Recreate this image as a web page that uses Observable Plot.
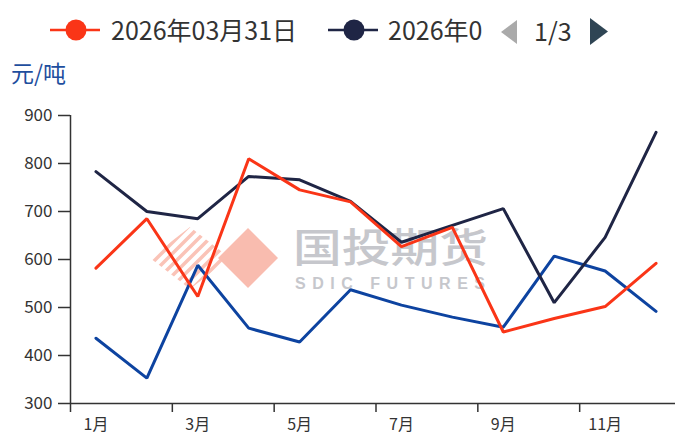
<!DOCTYPE html>
<html>
<head>
<meta charset="utf-8">
<script src="https://cdn.jsdelivr.net/npm/d3@7"></script>
<script src="https://cdn.jsdelivr.net/npm/@observablehq/plot@0.6"></script>
<style>
  body { margin: 0; background: #fff; font-family: "Noto Sans CJK SC", "Noto Sans", sans-serif; }
  #wrap { position: relative; width: 675px; height: 437px; overflow: hidden; background: #fff; }
  #legend { position: relative; height: 58px; z-index: 2; }
  .lg { position: absolute; font-size: 25px; line-height: 30px; color: #333; white-space: nowrap; }
  #wm { position: absolute; left: 0; top: 0; z-index: 0; }
  #chart { position: relative; z-index: 1; }
  #unit { position: absolute; left: 11px; top: 58px; font-size: 23px; line-height: 28px; color: #1e4e9e; z-index: 2; }
</style>
</head>
<body>
<div id="wrap">
  <div id="legend"></div>
  <svg id="wm" width="675" height="437"></svg>
  <div id="chart"></div>
  <div id="unit"></div>
</div>
<script>
// ---- data ----
const months = [1, 2, 3, 4, 5, 6, 7, 8, 9, 10, 11, 12];
const seriesNames = ["2026年03月31日", "2026年0", "series3"];
const seriesColors = ["#fa3517", "#1f2545", "#0d43a0"];
const redValues  = [582, 685, 523, 810, 745, 720, 627, 667, 449, 477, 502, 592];
const navyValues = [783, 700, 685, 773, 766, 721, 636, 671, 706, 510, 646, 865];
const blueValues = [436, 353, 588, 457, 428, 537, 505, 480, 459, 607, 576, 492];
const yTicks = [300, 400, 500, 600, 700, 800, 900];
const xLabelMonths = [1, 3, 5, 7, 9, 11];
const xLabels = ["1月", "3月", "5月", "7月", "9月", "11月"];
const xTickBounds = [0.5, 2.5, 4.5, 6.5, 8.5, 10.5];
const unitLabel = "元/吨";
const pageLabel = "1/3";

const valueSets = [redValues, navyValues, blueValues];
const data = [];
// draw order: blue, navy, red (red on top)
[2, 1, 0].forEach(si => {
  months.forEach((m, i) => data.push({ month: m, value: valueSets[si][i], series: seriesNames[si] }));
});

// ---- legend (HTML) ----
const legend = document.getElementById("legend");
function addItem(x, color, name, textLeft) {
  const s = document.createElementNS("http://www.w3.org/2000/svg", "svg");
  s.setAttribute("width", 52); s.setAttribute("height", 26);
  s.style.position = "absolute"; s.style.left = x + "px"; s.style.top = "17px";
  s.innerHTML = `<line x1="0" y1="13" x2="50" y2="13" stroke="${color}" stroke-width="2.5"/>` +
                `<circle cx="26" cy="13" r="10.5" fill="${color}"/>`;
  legend.appendChild(s);
  const t = document.createElement("div");
  t.className = "lg"; t.textContent = name;
  t.style.left = textLeft + "px"; t.style.top = "14px";
  legend.appendChild(t);
}
addItem(50, seriesColors[0], seriesNames[0], 111);
addItem(328, seriesColors[1], seriesNames[1], 388);
// pager arrows
const pl = document.createElementNS("http://www.w3.org/2000/svg", "svg");
pl.setAttribute("width", 24); pl.setAttribute("height", 40);
pl.style.position = "absolute"; pl.style.left = "495px"; pl.style.top = "12px";
pl.innerHTML = `<path d="M22 8 L6 20 L22 32 Z" fill="#aaaaaa"/>`;
legend.appendChild(pl);
const pr = document.createElementNS("http://www.w3.org/2000/svg", "svg");
pr.setAttribute("width", 24); pr.setAttribute("height", 40);
pr.style.position = "absolute"; pr.style.left = "588px"; pr.style.top = "12px";
pr.innerHTML = `<path d="M2 6 L20 19.5 L2 33 Z" fill="#2f4554"/>`;
legend.appendChild(pr);
const pt = document.createElement("div");
pt.className = "lg"; pt.textContent = pageLabel;
pt.style.left = "534px"; pt.style.top = "15px";
legend.appendChild(pt);
document.getElementById("unit").textContent = unitLabel;

// ---- watermark ----
const wm = d3.select("#wm");
const defs = wm.append("defs");
defs.append("clipPath").attr("id", "stripeClip")
  .append("path").attr("d", "M150 258 L190 227 L230 258 L190 289 Z");
const g = wm.append("g").attr("clip-path", "url(#stripeClip)");
for (let k = -6; k <= 8; k++) {
  const c = 190 + k * 11;
  g.append("line").attr("x1", c - 60).attr("y1", 318).attr("x2", c + 60).attr("y2", 198)
    .attr("stroke", "#fac3b7").attr("stroke-width", 3.5);
}
wm.append("path").attr("d", "M248 228 L278 258 L248 288 L218 258 Z").attr("fill", "#f9bcaf");
wm.append("text").attr("x", 293).attr("y", 262).attr("font-size", 40).attr("font-weight", 500)
  .attr("fill", "#c6c7cc").attr("textLength", 195).attr("lengthAdjust", "spacingAndGlyphs")
  .attr("font-family", "Noto Sans CJK SC").text("国投期货");
wm.append("text").attr("x", 295).attr("y", 289).attr("font-size", 16).attr("font-weight", 700)
  .attr("fill", "#c6c7cc").attr("textLength", 190).attr("lengthAdjust", "spacing")
  .attr("font-family", "Liberation Sans").text("SDIC FUTURES");

// ---- chart ----
const chart = Plot.plot({
  width: 675,
  height: 379,
  marginLeft: 70,
  marginRight: 0,
  marginTop: 57,
  marginBottom: 34,
  style: { background: "transparent", fontFamily: "'Noto Sans CJK SC', 'Noto Sans', sans-serif", color: "#333" },
  x: { domain: [0.5, 12.5], range: [70, 681], axis: null },
  y: { domain: [300, 900], axis: null },
  color: { domain: seriesNames, range: seriesColors },
  marks: [
    Plot.axisY({ ticks: yTicks, tickSize: 12, tickPadding: 6, fontSize: 17, label: null, strokeWidth: 1.5 }),
    Plot.axisX({ ticks: xTickBounds, tickSize: 9, tickFormat: () => "", label: null, strokeWidth: 1.5 }),
    Plot.axisX({ ticks: xLabelMonths, tickSize: 0, tickPadding: 15, fontSize: 16, label: null,
                 tickFormat: d => xLabels[xLabelMonths.indexOf(d)] }),
    Plot.ruleY([300], { stroke: "#333", strokeWidth: 1.5 }),
    Plot.ruleX([0.5], { y1: 300, y2: 900, stroke: "#333", strokeWidth: 1.5 }),
    Plot.line(data, { x: "month", y: "value", z: "series", stroke: "series", strokeWidth: 3, strokeLinejoin: "miter" })
  ]
});
document.getElementById("chart").appendChild(chart);
</script>
</body>
</html>
